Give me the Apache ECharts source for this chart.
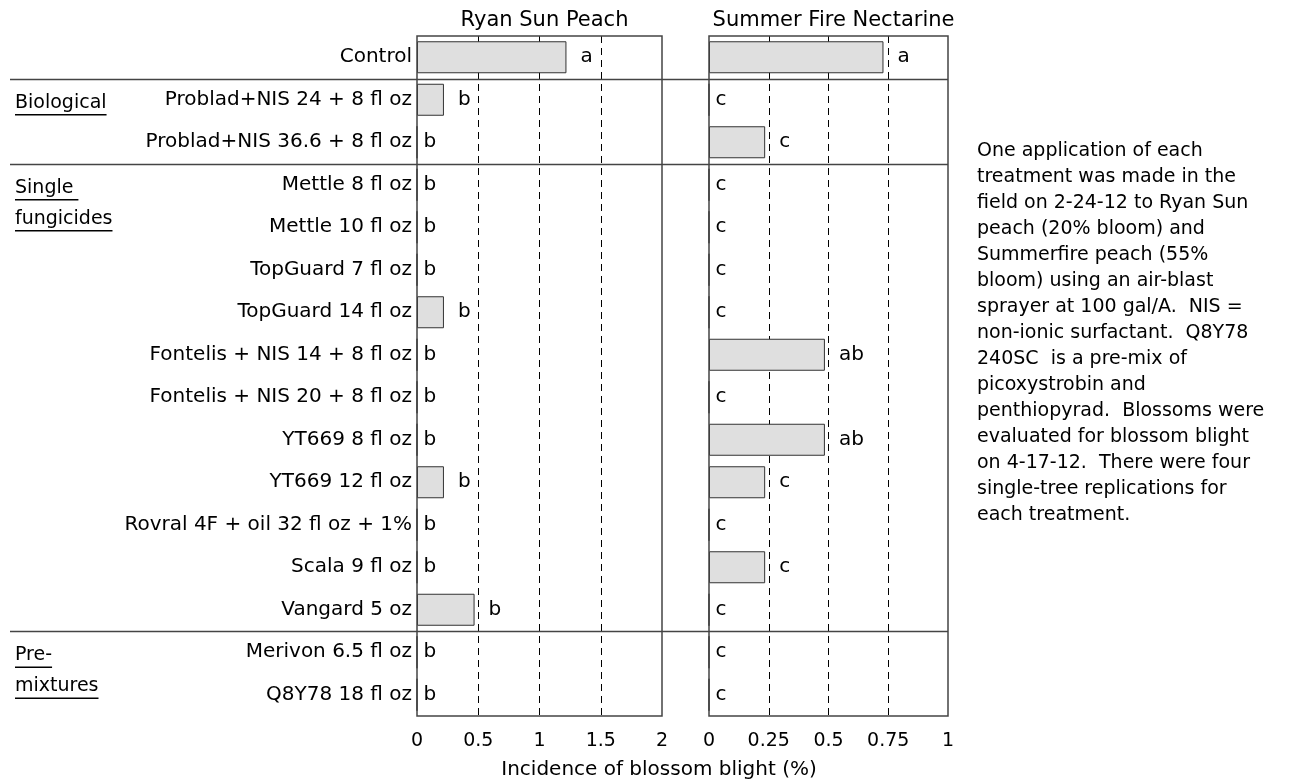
<!DOCTYPE html>
<html>
<head>
<meta charset="utf-8">
<script src="https://cdn.jsdelivr.net/npm/echarts@6/dist/echarts.min.js"></script>
<style>
  html, body { margin: 0; padding: 0; background: #fff; }
  #main { width: 1290px; height: 784px; }
</style>
</head>
<body>
<div id="main"></div>
<script>
const categories = [
    'Control',
    'Problad+NIS 24 + 8 fl oz',
    'Problad+NIS 36.6 + 8 fl oz',
    'Mettle 8 fl oz',
    'Mettle 10 fl oz',
    'TopGuard 7 fl oz',
    'TopGuard 14 fl oz',
    'Fontelis + NIS 14 + 8 fl oz',
    'Fontelis + NIS 20 + 8 fl oz',
    'YT669 8 fl oz',
    'YT669 12 fl oz',
    'Rovral 4F + oil 32 fl oz + 1%',
    'Scala 9 fl oz',
    'Vangard 5 oz',
    'Merivon 6.5 fl oz',
    'Q8Y78 18 fl oz'
];

// incidence of blossom blight (%)
const ryanSun = [1.22, 0.22, 0, 0, 0, 0, 0.22, 0, 0, 0, 0.22, 0, 0, 0.47, 0, 0];
const ryanSunLetters = ['a', 'b', 'b', 'b', 'b', 'b', 'b', 'b', 'b', 'b', 'b', 'b', 'b', 'b', 'b', 'b'];
const summerFire = [0.73, 0, 0.235, 0, 0, 0, 0, 0.485, 0, 0.485, 0.235, 0, 0.235, 0, 0, 0];
const summerFireLetters = ['a', 'c', 'c', 'c', 'c', 'c', 'c', 'ab', 'c', 'ab', 'c', 'c', 'c', 'c', 'c', 'c'];

const ryanTicks = { max: 2, interval: 0.5 };
const summerTicks = { max: 1, interval: 0.25 };

const panelTitles = ['Ryan Sun Peach', 'Summer Fire Nectarine'];
const axisName = 'Incidence of blossom blight (%)';

// treatment groups: first row of the group and its label lines
const groups = [
    { row: 1, lines: ['Biological'] },
    { row: 3, lines: ['Single ', 'fungicides'] },
    { row: 14, lines: ['Pre-', 'mixtures'] }
];
const separatorRows = [1, 3, 14];

const notes = [
    'One application of each',
    'treatment was made in the',
    'field on 2-24-12 to Ryan Sun',
    'peach (20% bloom) and',
    'Summerfire peach (55%',
    'bloom) using an air-blast',
    'sprayer at 100 gal/A.  NIS =',
    'non-ionic surfactant.  Q8Y78',
    '240SC  is a pre-mix of',
    'picoxystrobin and',
    'penthiopyrad.  Blossoms were',
    'evaluated for blossom blight',
    'on 4-17-12.  There were four',
    'single-tree replications for',
    'each treatment.'
];

const FONT = '"DejaVu Sans", Verdana, sans-serif';

const gridA = { left: 417, top: 36, width: 245, height: 680 };
const gridB = { left: 709, top: 36, width: 239, height: 680 };

function barData(values, letters) {
    return values.map((v, i) => ({
        value: v,
        label: { formatter: letters[i], distance: v > 0 ? 14 : 6 }
    }));
}

function xAxisFor(gridIndex, ticks) {
    return {
        type: 'value',
        gridIndex: gridIndex,
        min: 0,
        max: ticks.max,
        interval: ticks.interval,
        axisLine: { show: false },
        axisTick: { show: false },
        axisLabel: { color: '#000', fontSize: 19, fontFamily: FONT, margin: 16 },
        splitLine: {
            show: true,
            showMinLine: false,
            showMaxLine: false,
            lineStyle: { color: '#000', type: [7, 5], width: 1 }
        }
    };
}

function yAxisFor(gridIndex, showLabels) {
    return {
        type: 'category',
        gridIndex: gridIndex,
        data: categories,
        inverse: true,
        axisLine: { show: false },
        axisTick: { show: false },
        splitLine: { show: false },
        axisLabel: {
            show: showLabels,
            color: '#000',
            fontSize: 20,
            fontFamily: FONT,
            margin: 5
        }
    };
}

const barStyle = { color: '#dfdfdf', borderColor: '#333', borderWidth: 1 };
const letterLabel = { show: true, position: 'right', color: '#000', fontSize: 20, fontFamily: FONT };

const myChart = echarts.init(document.getElementById('main'), null, { renderer: 'canvas' });

const option = {
    backgroundColor: '#fff',
    animation: false,
    title: [
        {
            text: panelTitles[0], left: gridA.left + gridA.width / 2, top: 5, textAlign: 'center',
            textStyle: { fontSize: 21, fontWeight: 'normal', color: '#000', fontFamily: FONT }
        },
        {
            text: panelTitles[1], left: gridB.left + gridB.width / 2, top: 5, textAlign: 'center',
            textStyle: { fontSize: 21, fontWeight: 'normal', color: '#000', fontFamily: FONT }
        }
    ],
    grid: [
        Object.assign({ show: false }, gridA),
        Object.assign({ show: false }, gridB)
    ],
    xAxis: [xAxisFor(0, ryanTicks), xAxisFor(1, summerTicks)],
    yAxis: [yAxisFor(0, true), yAxisFor(1, false)],
    series: [
        {
            type: 'bar',
            name: panelTitles[0],
            xAxisIndex: 0,
            yAxisIndex: 0,
            barWidth: 32,
            itemStyle: barStyle,
            label: letterLabel,
            data: barData(ryanSun, ryanSunLetters)
        },
        {
            type: 'bar',
            name: panelTitles[1],
            xAxisIndex: 1,
            yAxisIndex: 1,
            barWidth: 32,
            itemStyle: barStyle,
            label: letterLabel,
            data: barData(summerFire, summerFireLetters)
        }
    ]
};

myChart.setOption(option);

// frames, separators, group labels, notes and axis name
const measureCtx = document.createElement('canvas').getContext('2d');
function textWidth(str, size) {
    measureCtx.font = size + 'px ' + FONT;
    return measureCtx.measureText(str).width;
}

const rowY = (i) => myChart.convertToPixel({ yAxisIndex: 0 }, categories[i]);
const graphics = [];

[gridA, gridB].forEach(function (g) {
    graphics.push({
        type: 'rect',
        shape: { x: g.left, y: g.top, width: g.width, height: g.height },
        style: { fill: null, stroke: '#444', lineWidth: 1.5 },
        z: 10
    });
});

separatorRows.forEach(function (r) {
    const y = Math.round((rowY(r - 1) + rowY(r)) / 2) + 0.5;
    graphics.push({
        type: 'line',
        shape: { x1: 10, y1: y, x2: gridB.left + gridB.width, y2: y },
        style: { stroke: '#444', lineWidth: 1.5 },
        z: 10
    });
});

groups.forEach(function (g) {
    const y0 = rowY(g.row) + 3;
    g.lines.forEach(function (line, k) {
        const y = y0 + k * 31;
        graphics.push({
            type: 'text',
            x: 15,
            y: y,
            style: { text: line, fontSize: 19, fontFamily: FONT, fill: '#000', verticalAlign: 'middle' }
        });
        const w = textWidth(line.trimEnd(), 19) + (line.endsWith(' ') ? 5 : 0);
        graphics.push({
            type: 'line',
            shape: { x1: 15, y1: y + 12, x2: 15 + w, y2: y + 12 },
            style: { stroke: '#000', lineWidth: 1.5 }
        });
    });
});

graphics.push({
    type: 'text',
    x: 977,
    y: 138,
    style: {
        text: notes.join('\n'),
        fontSize: 19,
        lineHeight: 26,
        fontFamily: FONT,
        fill: '#000'
    }
});

graphics.push({
    type: 'text',
    x: 659,
    y: 770,
    style: {
        text: axisName,
        fontSize: 20,
        fontFamily: FONT,
        fill: '#000',
        align: 'center',
        verticalAlign: 'middle'
    }
});

myChart.setOption({ graphic: graphics });
</script>
</body>
</html>
